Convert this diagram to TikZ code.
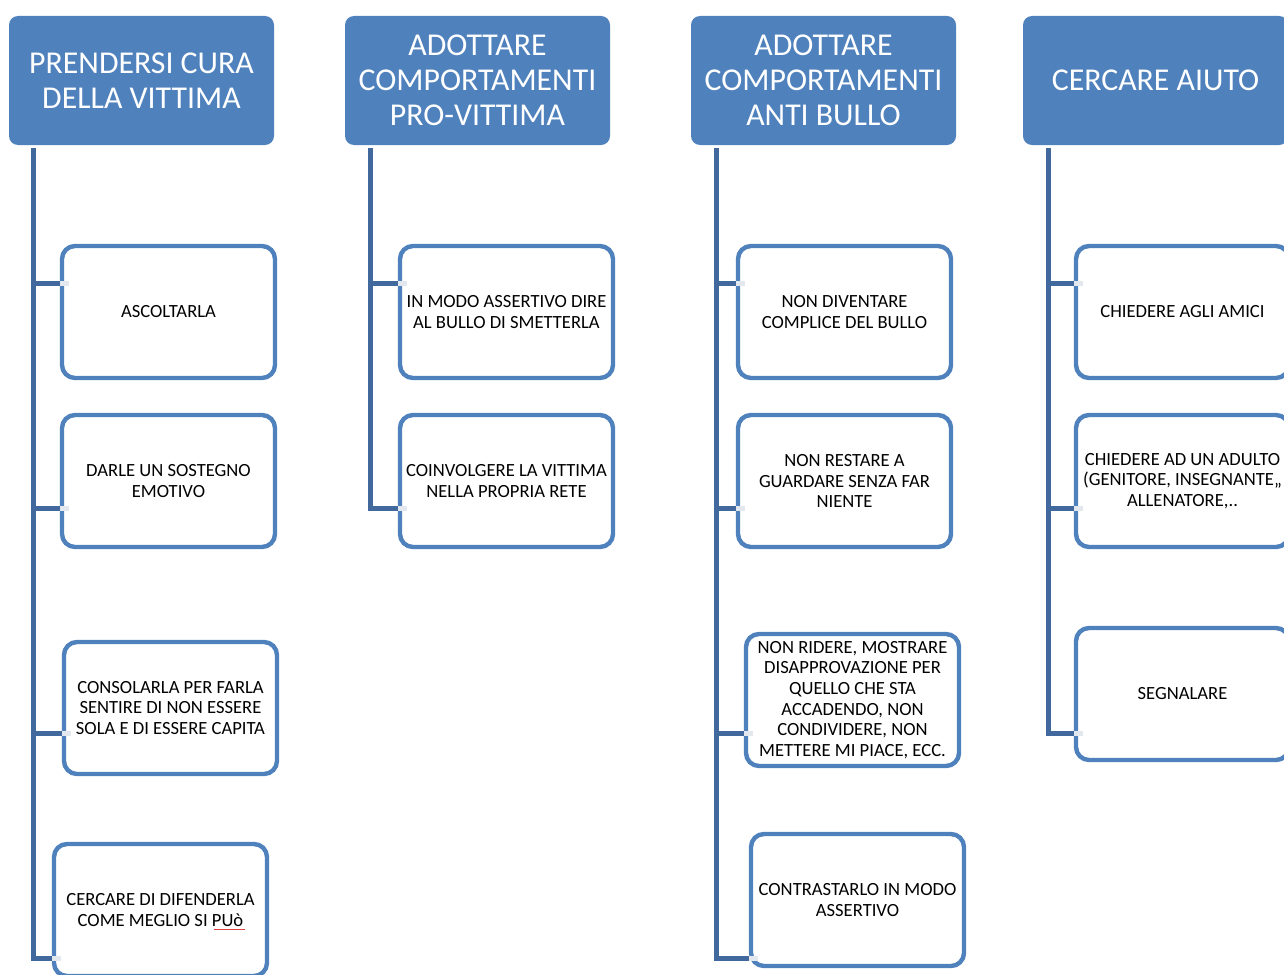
\documentclass[tikz,border=0pt]{standalone}
\usepackage{fontspec}
\setmainfont{Carlito}
\definecolor{hdr}{HTML}{4F81BD}
\definecolor{bord}{HTML}{4F81BD}
\definecolor{spine}{HTML}{41699D}
\definecolor{fade}{HTML}{E3E8EF}
\definecolor{spell}{HTML}{E04040}
\tikzset{
 head/.style={fill=hdr, draw=none, rounded corners=9pt, anchor=north west, outer sep=0pt,
   minimum width=265pt, minimum height=129pt, text=white, inner sep=0pt,
   font=\fontsize{31.8}{35}\selectfont, align=center},
 child/.style={draw=bord, line width=4.4pt, fill=white, rounded corners=13pt, anchor=north west,
   outer sep=0pt, minimum width=213pt, minimum height=132pt, inner sep=0pt,
   font=\fontsize{18.6}{20.6}\selectfont, align=center},
 conn/.style={draw=spine, line width=5pt},
 fadeend/.style={draw=fade, line width=5pt}
}
\begin{document}
\begin{tikzpicture}[x=1pt,y=-1pt]
\useasboundingbox (0,0) rectangle (1284,974);
% headers
\node[head] (h1) at (9,16) {PRENDERSI CURA\\DELLA VITTIMA};
\node[head] (h2) at (345,16) {ADOTTARE\\COMPORTAMENTI\\PRO-VITTIMA};
\node[head] (h3) at (691,16) {ADOTTARE\\COMPORTAMENTI\\ANTI BULLO};
\node[head] (h4) at (1023,16) {CERCARE AIUTO};
% spine coordinates
\coordinate (s1) at (33,148);  \coordinate (s2) at (370,148);
\coordinate (s3) at (716,148); \coordinate (s4) at (1048,148);
\coordinate (p11) at (33,283); \coordinate (p12) at (33,508);
\coordinate (p13) at (33,733); \coordinate (p14) at (33,958);
\coordinate (p21) at (370,283); \coordinate (p22) at (370,508);
\coordinate (p31) at (716,283); \coordinate (p32) at (716,508);
\coordinate (p33) at (716,733); \coordinate (p34) at (716,958);
\coordinate (p41) at (1048,283); \coordinate (p42) at (1048,508);
\coordinate (p43) at (1048,733);
% child boxes
\node[child] (a1) at (62,246) {ASCOLTARLA};
\node[child] (a2) at (62,415) {DARLE UN SOSTEGNO\\EMOTIVO};
\node[child] (a3) at (64,642) {CONSOLARLA PER FARLA\\SENTIRE DI NON ESSERE\\SOLA E DI ESSERE CAPITA};
\node[child] (a4) at (54,844) {CERCARE DI DIFENDERLA\\COME MEGLIO SI PUò};
\node[child] (b1) at (400,246) {IN MODO ASSERTIVO DIRE\\AL BULLO DI SMETTERLA};
\node[child] (b2) at (400,415) {COINVOLGERE LA VITTIMA\\NELLA PROPRIA RETE};
\node[child] (c1) at (738,246) {NON DIVENTARE\\COMPLICE DEL BULLO};
\node[child] (c2) at (738,415) {NON RESTARE A\\GUARDARE SENZA FAR\\NIENTE};
\node[child] (c3) at (746,634) {NON RIDERE, MOSTRARE\\DISAPPROVAZIONE PER\\QUELLO CHE STA\\ACCADENDO, NON\\CONDIVIDERE, NON\\METTERE MI PIACE, ECC.};
\node[child] (c4) at (751,834) {CONTRASTARLO IN MODO\\ASSERTIVO};
\node[child] (d1) at (1076,246) {CHIEDERE AGLI AMICI};
\node[child] (d2) at (1076,415) {CHIEDERE AD UN ADULTO\\(GENITORE, INSEGNANTE,,\\ALLENATORE,..};
\node[child] (d3) at (1076,628) {SEGNALARE};
% spell-check underline under "PUò"
\draw[spell, line width=0.8pt] (214,929) -- (245,929);
% spines and branches
\draw[conn] (s1) |- ([xshift=-2pt]p14 -| a4.west);
\draw[conn] (p11) -- ([xshift=-2pt]p11 -| a1.west);
\draw[conn] (p12) -- ([xshift=-2pt]p12 -| a2.west);
\draw[conn] (p13) -- ([xshift=-2pt]p13 -| a3.west);
\draw[conn] (s2) |- ([xshift=-2pt]p22 -| b2.west);
\draw[conn] (p21) -- ([xshift=-2pt]p21 -| b1.west);
\draw[conn] (s3) |- ([xshift=-2pt]p34 -| c4.west);
\draw[conn] (p31) -- ([xshift=-2pt]p31 -| c1.west);
\draw[conn] (p32) -- ([xshift=-2pt]p32 -| c2.west);
\draw[conn] (p33) -- ([xshift=-2pt]p33 -| c3.west);
\draw[conn] (s4) |- ([xshift=-2pt]p43 -| d3.west);
\draw[conn] (p41) -- ([xshift=-2pt]p41 -| d1.west);
\draw[conn] (p42) -- ([xshift=-2pt]p42 -| d2.west);
% faded connector ends over the box borders
\foreach \p/\b in {p11/a1,p12/a2,p13/a3,p14/a4,p21/b1,p22/b2,p31/c1,p32/c2,p33/c3,p34/c4,p41/d1,p42/d2,p43/d3}
  \draw[fadeend] ([xshift=-2pt]\p -| \b.west) -- ([xshift=7pt]\p -| \b.west);
\end{tikzpicture}
\end{document}
